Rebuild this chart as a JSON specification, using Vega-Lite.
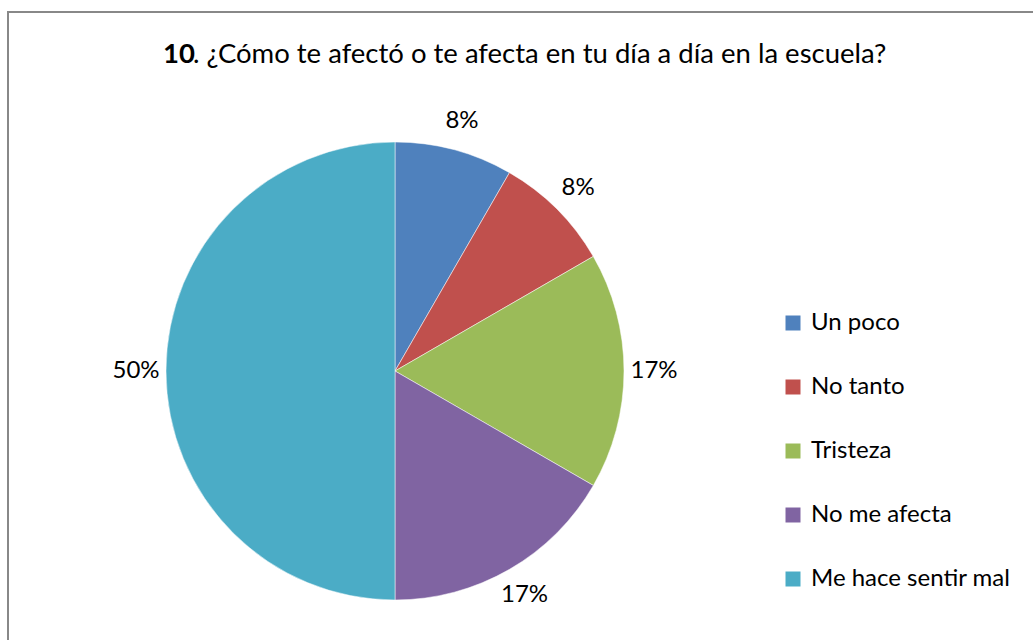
{
  "$schema": "https://vega.github.io/schema/vega-lite/v6.json",
  "autosize": "none",
  "padding": {"left": 8, "top": 12, "right": 1025, "bottom": 0},
  "background": "white",
  "bounds": "flush",
  "spacing": 0,
  "config": {
    "font": "Lato",
    "title": {"fontSize": 27.5, "font": "Lato", "color": "black", "anchor": "start", "frame": "group", "offset": 0, "dy": 60, "baseline": "alphabetic"},
    "legend": {
      "orient": "none",
      "legendX": 773,
      "legendY": 299,
      "symbolType": "square",
      "symbolSize": 225,
      "symbolStrokeWidth": 0,
      "labelFontSize": 24,
      "labelFont": "Lato",
      "labelColor": "black",
      "labelOffset": 6,
      "labelLimit": 400,
      "rowPadding": 40,
      "title": null
    }
  },
  "datasets": {
    "d": [
      {"cat": "Un poco", "share": 0.0833, "k": 1},
      {"cat": "No tanto", "share": 0.0833, "k": 2},
      {"cat": "Tristeza", "share": 0.1667, "k": 3},
      {"cat": "No me afecta", "share": 0.1667, "k": 4},
      {"cat": "Me hace sentir mal", "share": 0.5, "k": 5}
    ]
  },
  "hconcat": [
    {
      "width": 774,
      "height": 718,
      "title": {"text": "10", "fontWeight": "bold", "dx": 155},
      "view": {"stroke": "#888888", "strokeWidth": 2, "strokeDash": [774, 1492, 718]},
      "data": {"name": "d"},
      "encoding": {
        "theta": {"field": "share", "type": "quantitative", "stack": true},
        "order": {"field": "k", "type": "quantitative"}
      },
      "layer": [
        {
          "mark": {"type": "arc", "outerRadius": 229, "stroke": "white", "strokeWidth": 0.5},
          "encoding": {
            "color": {
              "field": "cat",
              "type": "nominal",
              "sort": ["Un poco", "No tanto", "Tristeza", "No me afecta", "Me hace sentir mal"],
              "scale": {
                "domain": ["Un poco", "No tanto", "Tristeza", "No me afecta", "Me hace sentir mal"],
                "range": ["#4F81BD", "#C0504D", "#9BBB59", "#8064A2", "#4BACC6"]
              },
              "legend": {"title": null}
            }
          }
        },
        {
          "mark": {"type": "text", "radius": 259, "fontSize": 24, "color": "black", "font": "Lato"},
          "encoding": {
            "detail": {"field": "cat", "type": "nominal"},
            "text": {"field": "share", "type": "quantitative", "format": ".0%"}
          }
        }
      ]
    },
    {
      "width": 300,
      "height": 718,
      "title": {"text": ". ¿Cómo te afectó o te afecta en tu día a día en la escuela?", "fontWeight": "normal", "dx": -589},
      "view": {"stroke": "#888888", "strokeWidth": 2, "strokeDash": [300, 3000]},
      "data": {"values": []},
      "mark": "point"
    }
  ]
}
